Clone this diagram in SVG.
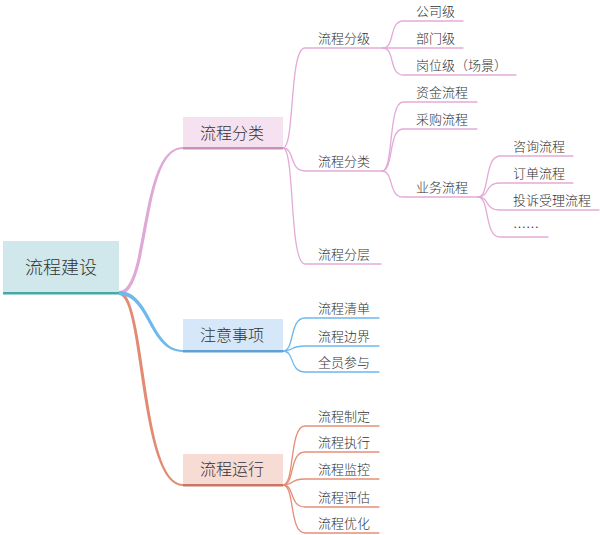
<svg xmlns="http://www.w3.org/2000/svg" width="600" height="535" viewBox="0 0 600 535">
<style>
text{font-family:"Noto Sans CJK SC","Noto Sans",sans-serif;fill:#333;font-weight:300;}
.t0{font-size:18px;text-anchor:middle;}
.t1{font-size:16px;text-anchor:middle;}
.t2{font-size:13px;}
.c{fill:none;stroke-width:1.3;stroke-linecap:round;}
.pk{stroke:#e3aad8;}
.bl{stroke:#6db8ef;}
.or{stroke:#e68e77;}
</style>
<rect width="600" height="535" fill="#ffffff"/>
<g id="connectors">
  <path d="M119,291 C148,291 138.5,147 183,147 L183,149 C141.5,149 152,295 119,295 Z" fill="#e0a8d6"/>
  <path d="M119,291 C147,291 141.5,484 183,484 L183,486 C138.5,486 143,295 119,295 Z" fill="#e38a72"/>
  <path d="M119,291 C151,291 151.5,350 183,350 L183,352 C148.5,352 149,295 119,295 Z" fill="#6cb8ef"/>
  <!-- pink level 2 -->
  <path class="c pk" d="M283,148 C295,148 289,48 305,48 L383,48"/>
  <path class="c pk" d="M283,148 C295,148 289,171 305,171 L382,171"/>
  <path class="c pk" d="M283,148 C295,148 289,264 305,264 L381,264"/>
  <!-- pink level 3 -->
  <path class="c pk" d="M383,48 C395,48 389,21 403,21 L463,21"/>
  <path class="c pk" d="M383,48 L463,48"/>
  <path class="c pk" d="M383,48 C395,48 389,75 403,75 L516,75"/>
  <path class="c pk" d="M382,171 C394,171 388,102 403,102 L477,102"/>
  <path class="c pk" d="M382,171 C394,171 388,129 403,129 L477,129"/>
  <path class="c pk" d="M382,171 C394,171 388,197 403,197 L478,197"/>
  <!-- pink level 4 -->
  <path class="c pk" d="M478,197 C490,197 484,156 500,156 L573,156"/>
  <path class="c pk" d="M478,197 C490,197 484,183 500,183 L573,183"/>
  <path class="c pk" d="M478,197 C490,197 484,210 500,210 L599,210"/>
  <path class="c pk" d="M478,197 C490,197 484,237 500,237 L548,237"/>
  <!-- blue -->
  <path class="c bl" d="M283,351 C295,351 289,318 305,318 L379,318"/>
  <path class="c bl" d="M283,351 C295,351 289,346 305,346 L379,346"/>
  <path class="c bl" d="M283,351 C295,351 289,372 305,372 L379,372"/>
  <!-- orange -->
  <path class="c or" d="M283,485 C295,485 289,426 305,426 L379,426"/>
  <path class="c or" d="M283,485 C295,485 289,452 305,452 L379,452"/>
  <path class="c or" d="M283,485 C295,485 289,479 305,479 L379,479"/>
  <path class="c or" d="M283,485 C295,485 289,507 305,507 L379,507"/>
  <path class="c or" d="M283,485 C295,485 289,533 305,533 L379,533"/>
</g>
<g id="root">
  <rect x="3" y="241" width="116" height="51" fill="#d0e8eb"/>
  <rect x="3" y="292" width="116" height="2.5" fill="#45a7a7"/>
  <text class="t0" x="61" y="274">流程建设</text>
</g>
<g id="n-fenlei">
  <rect x="183" y="117" width="100" height="30" fill="#f5e1f0"/>
  <rect x="183" y="147" width="100" height="2.5" fill="#c592bb"/>
  <text class="t1" x="232" y="139">流程分类</text>
</g>
<g id="n-zhuyi">
  <rect x="183" y="319" width="100" height="31" fill="#d5e7f8"/>
  <rect x="183" y="350" width="100" height="2.5" fill="#5f9fd2"/>
  <text class="t1" x="232" y="341">注意事项</text>
</g>
<g id="n-yunxing">
  <rect x="183" y="454" width="100" height="30" fill="#f7dcd6"/>
  <rect x="183" y="484" width="100" height="2.5" fill="#c97764"/>
  <text class="t1" x="232" y="475">流程运行</text>
</g>
<g id="n-fenji"><text class="t2" x="318" y="43">流程分级</text></g>
<g id="n-fenlei2"><text class="t2" x="318" y="165.5">流程分类</text></g>
<g id="n-fenceng"><text class="t2" x="318" y="258.5">流程分层</text></g>
<g id="n-gongsi"><text class="t2" x="416" y="16">公司级</text></g>
<g id="n-bumen"><text class="t2" x="416" y="43">部门级</text></g>
<g id="n-gangwei"><text class="t2" x="416" y="70">岗位级（场景）</text></g>
<g id="n-zijin"><text class="t2" x="416" y="97">资金流程</text></g>
<g id="n-caigou"><text class="t2" x="416" y="124">采购流程</text></g>
<g id="n-yewu"><text class="t2" x="416" y="192">业务流程</text></g>
<g id="n-zixun"><text class="t2" x="513" y="151">咨询流程</text></g>
<g id="n-dingdan"><text class="t2" x="513" y="178">订单流程</text></g>
<g id="n-tousu"><text class="t2" x="513" y="205">投诉受理流程</text></g>
<g id="n-more"><text class="t2" x="513" y="232">……</text></g>
<g id="n-qingdan"><text class="t2" x="318" y="313">流程清单</text></g>
<g id="n-bianjie"><text class="t2" x="318" y="340.5">流程边界</text></g>
<g id="n-canyu"><text class="t2" x="318" y="367">全员参与</text></g>
<g id="n-zhiding"><text class="t2" x="318" y="420.5">流程制定</text></g>
<g id="n-zhixing"><text class="t2" x="318" y="447">流程执行</text></g>
<g id="n-jiankong"><text class="t2" x="318" y="474">流程监控</text></g>
<g id="n-pinggu"><text class="t2" x="318" y="501.5">流程评估</text></g>
<g id="n-youhua"><text class="t2" x="318" y="528">流程优化</text></g>
</svg>
